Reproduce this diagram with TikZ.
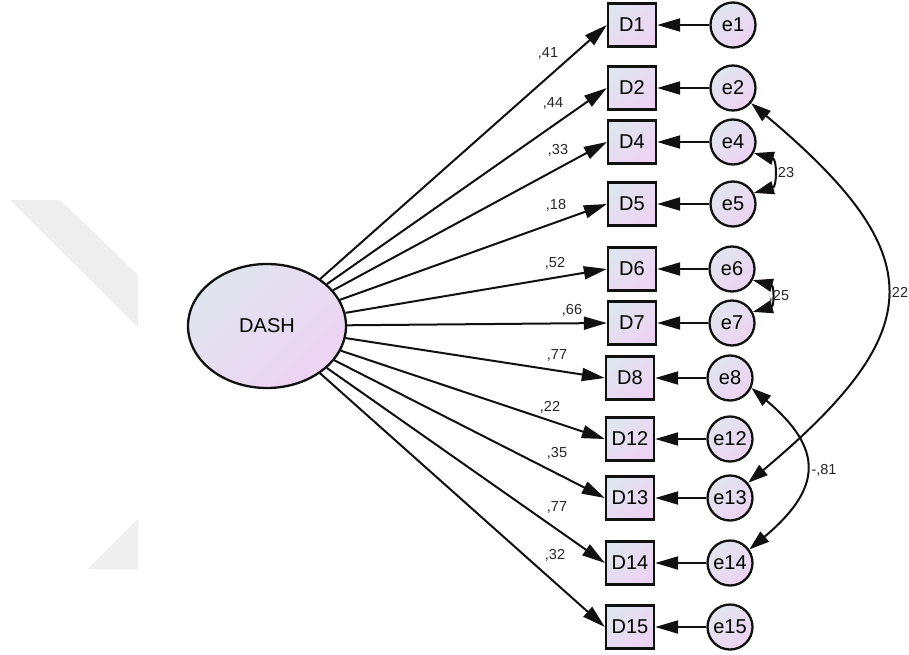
\documentclass[tikz,border=0pt]{standalone}
\usepackage{fontspec}
\setmainfont{Liberation Sans}
\usetikzlibrary{arrows.meta,shapes.geometric}
\newcommand\mynodefont{\fontsize{20}{23}\selectfont}
\newcommand\mylblfont{\fontsize{14.5}{17}\selectfont}
\definecolor{shadeA}{HTML}{E0E5EE}
\definecolor{shadeB}{HTML}{EDD3F3}
\definecolor{wmark}{HTML}{EEEEEE}
\definecolor{edgecol}{HTML}{111111}
\tikzset{
  filled/.style={draw=edgecol, line width=2.3pt, left color=shadeA, right color=shadeB, shading angle=45, inner sep=0pt, font=\mynodefont},
  obs/.style={filled, rectangle, minimum width=48pt, minimum height=43pt},
  err/.style={filled, circle, minimum size=45pt},
  lat/.style={filled, ellipse, minimum width=158pt, minimum height=124pt},
  pathar/.style={-{Triangle[length=23pt,width=13pt]}, line width=2pt, draw=edgecol},
  covar/.style={{Triangle[length=20pt,width=13pt]}-{Triangle[length=20pt,width=13pt]}, line width=2pt, draw=edgecol},
  lbl/.style={font=\mylblfont, inner sep=0pt, text=black!85}
}
\begin{document}
\begin{tikzpicture}[x=1pt,y=1pt]
\useasboundingbox (0,0) rectangle (909,-655);
\fill[white] (0,0) rectangle (909,-655);
% watermark
\fill[wmark] (10,-200) -- (60,-200) -- (138,-275) -- (138,-327) -- cycle;
\fill[wmark] (88,-569) -- (138,-519) -- (138,-569) -- cycle;

% latent
\node[lat] (dash) at (267,-326) {DASH};

% observed
\node[obs] (D1)  at (632,-25)  {D1};
\node[obs] (D2)  at (632,-88)  {D2};
\node[obs] (D4)  at (632,-142) {D4};
\node[obs] (D5)  at (632,-204) {D5};
\node[obs] (D6)  at (632,-269) {D6};
\node[obs] (D7)  at (632,-323) {D7};
\node[obs] (D8)  at (630,-378) {D8};
\node[obs] (D12) at (630,-439) {D12};
\node[obs] (D13) at (630,-498) {D13};
\node[obs] (D14) at (630,-563) {D14};
\node[obs] (D15) at (630,-627) {D15};

% errors
\node[err] (e1)  at (733,-25)  {e1};
\node[err] (e2)  at (733,-88)  {e2};
\node[err] (e4)  at (733,-142) {e4};
\node[err] (e5)  at (733,-204) {e5};
\node[err] (e6)  at (732,-269) {e6};
\node[err] (e7)  at (732,-323) {e7};
\node[err] (e8)  at (730,-378) {e8};
\node[err] (e12) at (730,-439) {e12};
\node[err] (e13) at (730,-498) {e13};
\node[err] (e14) at (730,-563) {e14};
\node[err] (e15) at (730,-627) {e15};

% loadings
\foreach \d in {D1,D2,D4,D5,D6,D7,D8,D12,D13,D14,D15}
  \draw[pathar] (dash) -- (\d.west);
% errors to items
\foreach \d/\e in {D1/e1,D2/e2,D4/e4,D5/e5,D6/e6,D7/e7,D8/e8,D12/e12,D13/e13,D14/e14,D15/e15}
  \draw[pathar] (\e) -- (\d);

% loading labels
\node[lbl] (l1)  at (548,-53)  {,41};
\node[lbl] (l2)  at (553,-103) {,44};
\node[lbl] (l4)  at (558,-150) {,33};
\node[lbl] (l5)  at (556,-205) {,18};
\node[lbl] (l6)  at (555,-263) {,52};
\node[lbl] (l7)  at (572,-310) {,66};
\node[lbl] (l8)  at (557,-355) {,77};
\node[lbl] (l12) at (550,-407) {,22};
\node[lbl] (l13) at (557,-453) {,35};
\node[lbl] (l14) at (557,-507) {,77};
\node[lbl] (l15) at (555,-555) {,32};

% covariances
\draw[covar] (e4.-28) .. controls +(-15:24) and +(15:24) .. (e5.28);
\draw[covar] (e6.-28) .. controls +(-15:22) and +(15:22) .. (e7.28);
\draw[covar] (e2.-40) .. controls +(-40:237) and +(40:237) .. (e13.40);
\draw[covar] (e8.-25) .. controls +(-40:95) and +(40:95) .. (e14.35);

\node[lbl] (c45)  at (784,-173) {,23};
\node[lbl] (c67)  at (779,-296) {,25};
\node[lbl] (c213) at (898,-293) {,22};
\node[lbl] (c814) at (824,-470) {-,81};
\end{tikzpicture}
\end{document}
